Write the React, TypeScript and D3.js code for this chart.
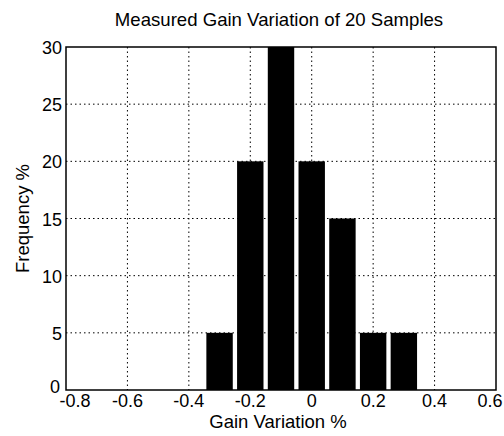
import React from "react";
import * as d3 from "d3";

const binCenters = [-0.3, -0.2, -0.1, 0, 0.1, 0.2, 0.3];
const frequencies = [5, 20, 30, 20, 15, 5, 5];
const xTicks = [-0.8, -0.6, -0.4, -0.2, 0, 0.2, 0.4, 0.6];
const yTicks = [0, 5, 10, 15, 20, 25, 30];
const title = "Measured Gain Variation of 20 Samples";
const xLabel = "Gain Variation %";
const yLabel = "Frequency %";

export default function App() {
  const W = 504, H = 436;
  const left = 66, right = 496, top = 47, bottom = 390;
  const x = d3.scaleLinear().domain([-0.8, 0.6]).range([left, right]);
  const y = d3.scaleLinear().domain([0, 30]).range([bottom, top]);
  const barW = 0.086;
  const font = "'Liberation Sans', Arial, sans-serif";
  const fmt = (v: number) => (v === 0 ? "0" : String(v));
  const n = xTicks.length;
  return (
    <svg width={W} height={H} style={{ position: "absolute", left: 0, top: 0 }} fontFamily={font}>
      <rect x={0} y={0} width={W} height={H} fill="#fff" />
      {xTicks.slice(1, -1).map((t) => (
        <line key={"gx" + t} x1={x(t)} x2={x(t)} y1={top} y2={bottom} stroke="#000" strokeWidth={1} strokeDasharray="1.5,3" />
      ))}
      {yTicks.slice(1, -1).map((t) => (
        <line key={"gy" + t} x1={left} x2={right} y1={y(t)} y2={y(t)} stroke="#000" strokeWidth={1} strokeDasharray="1.5,3" />
      ))}
      {binCenters.map((c, i) => (
        <rect key={"b" + i} x={x(c - barW / 2)} y={y(frequencies[i])} width={x(c + barW / 2) - x(c - barW / 2)} height={bottom - y(frequencies[i])} fill="#000" />
      ))}
      <rect x={left} y={top} width={right - left} height={bottom - top} fill="none" stroke="#000" strokeWidth={1.5} />
      {xTicks.map((t, i) => (
        <text key={"xt" + t} x={x(t) + (i === 0 ? 9 : i === n - 1 ? -6 : 0)} y={bottom + 17} textAnchor="middle" fontSize={18}>{fmt(t)}</text>
      ))}
      {yTicks.map((t) => (
        <text key={"yt" + t} x={left - (t === 0 ? 6 : 4)} y={y(t) + (t === 0 ? 3 : 7)} textAnchor="end" fontSize={18}>{t}</text>
      ))}
      <text x={(left + right) / 2 - 2} y={26} textAnchor="middle" fontSize={18.6}>{title}</text>
      <text x={(left + right) / 2 - 3} y={428} textAnchor="middle" fontSize={18.5}>{xLabel}</text>
      <text transform={`translate(29,${(top + bottom) / 2}) rotate(-90)`} textAnchor="middle" fontSize={18.5}>{yLabel}</text>
    </svg>
  );
}
